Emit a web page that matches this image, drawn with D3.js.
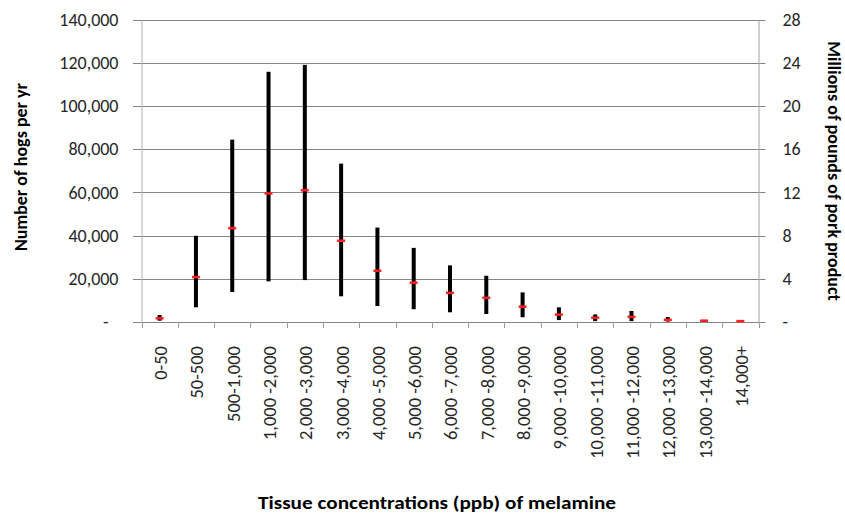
<!DOCTYPE html>
<html>
  <head>
    <meta charset="utf-8">
    <title>Hogs per year by melamine tissue concentration</title>
    <style type="text/css">
    body { margin: 0; background: #fff; }
    svg text { font-family: Calibri, Carlito, Lato, sans-serif; fill: #262626; }
    .title { font-weight: bold; font-size: 18px; fill: #000; }
    .tick text { font-size: 18px; }
    </style>
  </head>
  <body>
    <div id="chart"></div>
    <script src="https://d3js.org/d3.v7.min.js"></script>
    <script>

    // categories (ppb of melamine in tissue)
    var categories = ["0-50", "50-500", "500-1,000", "1,000 -2,000", "2,000 -3,000", "3,000 -4,000",
      "4,000 -5,000", "5,000 -6,000", "6,000 -7,000", "7,000 -8,000", "8,000 -9,000",
      "9,000 -10,000", "10,000 -11,000", "11,000 -12,000", "12,000 -13,000", "13,000 -14,000", "14,000+"];

    // hogs per yr: low / mean / high
    var lowValues  = [600, 6800, 13900, 18800, 19400, 11900, 7400, 5900, 4500, 3700, 2200, 900, 400, 400, 200, 150, 100];
    var meanValues = [1700, 20800, 43400, 59500, 61000, 37600, 23700, 18200, 13500, 11200, 7100, 3400, 2000, 2400, 1000, 600, 400];
    var highValues = [3200, 39900, 84400, 115800, 119000, 73300, 43700, 34300, 26200, 21400, 13700, 6800, 3500, 5100, 2300, 1000, 700];

    // axis ticks
    var leftTicks = [0, 20000, 40000, 60000, 80000, 100000, 120000, 140000];
    var leftTickLabels = ["-", "20,000", "40,000", "60,000", "80,000", "100,000", "120,000", "140,000"];
    var rightTicks = [0, 4, 8, 12, 16, 20, 24, 28];
    var rightTickLabels = ["-", "4", "8", "12", "16", "20", "24", "28"];

    var width = 845, height = 514;
    var plotLeft = 141.5, plotRight = 758.5, plotTop = 19.5, plotBottom = 322;

    var svg = d3.select("#chart").append("svg")
      .attr("width", width)
      .attr("height", height);

    var x = d3.scaleBand().domain(categories).range([plotLeft, plotRight]);
    var y = d3.scaleLinear().domain([0, 140000]).range([plotBottom, plotTop]);
    var y2 = d3.scaleLinear().domain([0, 28]).range([plotBottom, plotTop]);

    // gridlines (they run into the tick marks on both sides)
    svg.append("g").selectAll("line")
      .data(leftTicks)
      .enter().append("line")
      .attr("x1", plotLeft - 8.5)
      .attr("x2", plotRight + 7)
      .attr("y1", function(d) { return Math.round(y(d)) + 0.5; })
      .attr("y2", function(d) { return Math.round(y(d)) + 0.5; })
      .attr("stroke", "#868686");

    // left axis
    var gl = svg.append("g")
      .attr("transform", "translate(" + plotLeft + ",0)")
      .call(d3.axisLeft(y).tickValues(leftTicks)
        .tickFormat(function(d, i) { return leftTickLabels[i]; })
        .tickSize(0).tickPadding(23));
    gl.select(".domain").attr("stroke", "#b0b0b0");
    gl.selectAll(".tick text").attr("dx", function(d) { return d === 0 ? -10 : 0; });

    // right axis
    var gr = svg.append("g")
      .attr("transform", "translate(" + plotRight + ",0)")
      .call(d3.axisRight(y2).tickValues(rightTicks)
        .tickFormat(function(d, i) { return rightTickLabels[i]; })
        .tickSize(0).tickPadding(24));
    gr.select(".domain").attr("stroke", "#a0a0a0");

    // category boundary ticks under the baseline
    svg.append("g").selectAll("line")
      .data(categories.concat([null]))
      .enter().append("line")
      .attr("x1", function(d) { return Math.round(d === null ? plotRight : x(d)) + 0.5; })
      .attr("x2", function(d) { return Math.round(d === null ? plotRight : x(d)) + 0.5; })
      .attr("y1", plotBottom)
      .attr("y2", plotBottom + 6)
      .attr("stroke", "#9a9a9a");

    // category labels, rotated
    svg.append("g").selectAll("text")
      .data(categories)
      .enter().append("text")
      .attr("transform", function(d) {
        return "translate(" + (x(d) + x.bandwidth() / 2 + 1) + "," + 346 + ") rotate(-90)";
      })
      .attr("text-anchor", "end")
      .attr("dy", "0.35em")
      .style("font-size", "18.5px")
      .text(function(d) { return d; });

    // high-low bars
    var bars = svg.append("g").selectAll("g")
      .data(categories)
      .enter().append("g");

    bars.append("rect")
      .attr("x", function(d) { return x(d) + x.bandwidth() / 2 - 2; })
      .attr("width", 4)
      .attr("y", function(d, i) { return y(highValues[i]); })
      .attr("height", function(d, i) { return Math.max(y(lowValues[i]) - y(highValues[i]), 1); })
      .attr("fill", "#000");

    bars.append("rect")
      .attr("x", function(d) { return x(d) + x.bandwidth() / 2 - 4; })
      .attr("width", 8)
      .attr("y", function(d, i) { return y(meanValues[i]) - 1.25; })
      .attr("height", 2.5)
      .attr("fill", "#ff1f1f");

    // axis titles
    svg.append("text")
      .attr("class", "title")
      .attr("transform", "translate(27,167) rotate(-90)")
      .attr("text-anchor", "middle")
      .text("Number of hogs per yr");

    svg.append("text")
      .attr("class", "title")
      .attr("transform", "translate(828,171) rotate(90)")
      .attr("text-anchor", "middle")
      .text("Millions of pounds of pork product");

    svg.append("text")
      .attr("class", "title")
      .attr("x", 437)
      .attr("y", 509)
      .attr("text-anchor", "middle")
      .attr("textLength", 358)
      .attr("lengthAdjust", "spacingAndGlyphs")
      .style("font-size", "19px")
      .text("Tissue concentrations (ppb) of melamine");

    </script>
  </body>
</html>
